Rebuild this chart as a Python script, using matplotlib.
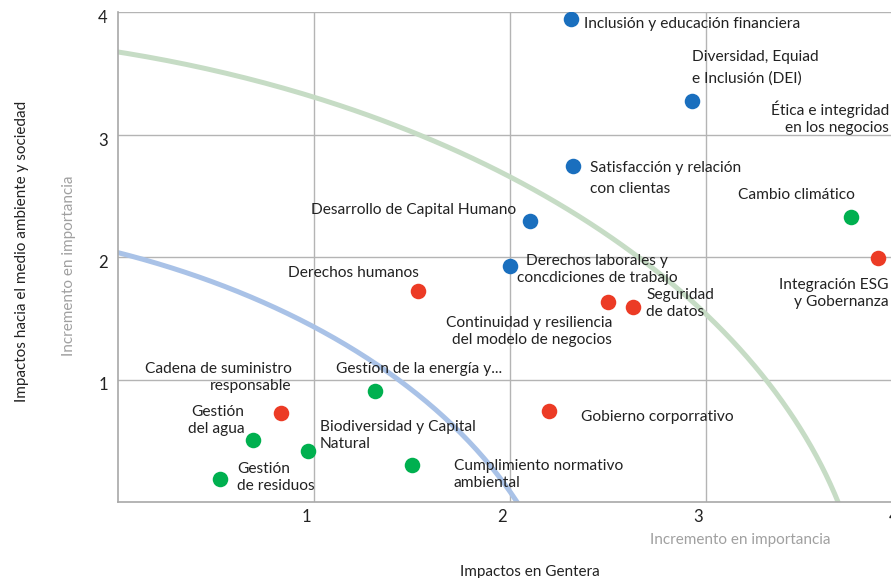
import numpy as np
import matplotlib.pyplot as plt

plt.rcParams['font.family'] = ['Lato', 'DejaVu Sans']

# materiality topics: (impact on Gentera, impact on environment & society)
blue_labels = ['Inclusión y educación financiera', 'Diversidad, Equiad\ne Inclusión (DEI)',
               'Satisfacción y relación\ncon clientas', 'Desarrollo de Capital Humano',
               'Derechos laborales y\nconcdiciones de trabajo']
blue_x = [2.31, 2.93, 2.32, 2.10, 2.00]
blue_y = [3.94, 3.27, 2.74, 2.29, 1.93]

red_labels = ['Derechos humanos', 'Cadena de suministro\nresponsable',
              'Continuidad y resiliencia\ndel modelo de negocios', 'Seguridad\nde datos',
              'Gobierno corporrativo', 'Integración ESG\ny Gobernanza',
              'Ética e integridad\nen los negocios']
red_x = [1.53, 0.83, 2.50, 2.63, 2.20, 3.88, 4.05]
red_y = [1.72, 0.73, 1.63, 1.59, 0.74, 1.99, 3.20]

green_labels = ['Cambio climático', 'Gestíon de la energía y...', 'Gestión\ndel agua',
                'Biodiversidad y Capital\nNatural', 'Cumplimiento normativo\nambiental',
                'Gestión\nde residuos']
green_x = [3.74, 1.31, 0.69, 0.97, 1.50, 0.52]
green_y = [2.33, 0.91, 0.51, 0.42, 0.30, 0.19]

tick_values = [1, 2, 3, 4]

# label placement: (dx px, dy px, ha, line spacing)
blue_pos = [(13, -5, 'left', 1.3), (0, 34, 'left', 1.65), (17, -12, 'left', 1.65),
            (-13, 11, 'right', 1.3), (87, -4, 'center', 1.25)]
red_pos = [(1, 18, 'right', 1.3), (11, 35, 'right', 1.25), (4, -29, 'right', 1.3),
           (13, 4, 'left', 1.25), (32, -6, 'left', 1.3), (10, -35, 'right', 1.25),
           (-23, -8, 'right', 1.25)]
green_pos = [(-113, 22, 'left', 1.3), (-39, 22, 'left', 1.3), (-9, 19, 'right', 1.25),
             (12, 15, 'left', 1.25), (42, -9, 'left', 1.25), (17, 1, 'left', 1.25)]

# threshold arcs: centre (c, c), radius r
green_arc = (-1.25, 5.08)
blue_arc = (-1.40, 3.71)

fig = plt.figure(figsize=(8.91, 5.78), dpi=100)
ax = fig.add_axes([118 / 891, 76 / 578, 773 / 891, 490 / 578])
ax.set_xlim(0, 773 / 196)
ax.set_ylim(0, 4)

for v in tick_values:
    ax.axvline(v, color='#b4b4b4', lw=1, zorder=0)
    ax.axhline(v, color='#b4b4b4', lw=1, zorder=0)
for s in ['top', 'right']:
    ax.spines[s].set_visible(False)
for s in ['left', 'bottom']:
    ax.spines[s].set_color('#a8a8a8')
    ax.spines[s].set_linewidth(1.2)
ax.set_xticks([])
ax.set_yticks([])

t = np.linspace(0, np.pi / 2, 300)
for (c, r), col in [(green_arc, '#c6dcc5'), (blue_arc, '#a9c2e7')]:
    ax.plot(c + r * np.cos(t), c + r * np.sin(t), color=col, lw=3.6, zorder=1,
            solid_capstyle='butt')

for xs, ys, labels, pos, col in [(blue_x, blue_y, blue_labels, blue_pos, '#1a6fbe'),
                                 (red_x, red_y, red_labels, red_pos, '#ec3b25'),
                                 (green_x, green_y, green_labels, green_pos, '#00b04f')]:
    ax.scatter(xs, ys, s=125, color=col, zorder=3, linewidths=0)
    for x, y, lab, (dx, dy, ha, ls) in zip(xs, ys, labels, pos):
        ax.annotate(lab, (x, y), xytext=(dx, dy), textcoords='offset pixels',
                    ha=ha, va='center', multialignment=ha, fontsize=11.2,
                    color='#222222', linespacing=ls, annotation_clip=False, zorder=4)

for v in tick_values:
    ax.annotate(str(v), (v, 0), xytext=(-8, -15), textcoords='offset pixels',
                ha='center', va='center', fontsize=12, color='#222222',
                annotation_clip=False)
    ax.annotate(str(v), (0, v), xytext=(-15, -6), textcoords='offset pixels',
                ha='center', va='center', fontsize=12, color='#222222',
                annotation_clip=False)

fig.text(530 / 891, 1 - 572 / 578, 'Impactos en Gentera', ha='center', va='center',
         fontsize=11, color='#222222')
fig.text(740 / 891, 1 - 540 / 578, 'Incremento en importancia', ha='center', va='center',
         fontsize=11, color='#a0a0a0')
fig.text(22 / 891, 1 - 251 / 578, 'Impactos hacia el medio ambiente y sociedad',
         ha='center', va='center', rotation=90, fontsize=11, color='#222222')
fig.text(69 / 891, 1 - 266 / 578, 'Incremento en importancia', ha='center', va='center',
         rotation=90, fontsize=11, color='#a0a0a0')

fig.savefig('out.png', dpi=100)
